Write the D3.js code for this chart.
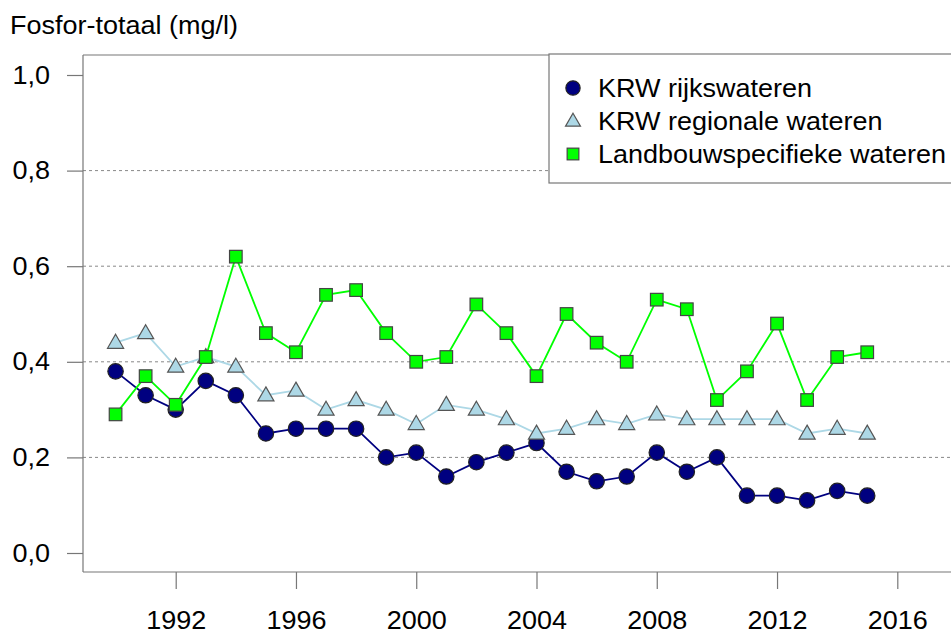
<!DOCTYPE html>
<html>
<head>
<meta charset="utf-8">
<script src="https://cdn.jsdelivr.net/npm/d3@7"></script>
<style>
  body { margin: 0; background: #fff; }
  text { font-family: "Liberation Sans", Arial, sans-serif; fill: #000; }
</style>
</head>
<body>
<div id="chart"></div>
<script>
// data
const years = d3.range(1990, 2016);
const rijk = [0.38, 0.33, 0.30, 0.36, 0.33, 0.25, 0.26, 0.26, 0.26, 0.20, 0.21, 0.16, 0.19,
              0.21, 0.23, 0.17, 0.15, 0.16, 0.21, 0.17, 0.20, 0.12, 0.12, 0.11, 0.13, 0.12];
const regio = [0.44, 0.46, 0.39, 0.41, 0.39, 0.33, 0.34, 0.30, 0.32, 0.30, 0.27, 0.31, 0.30,
               0.28, 0.25, 0.26, 0.28, 0.27, 0.29, 0.28, 0.28, 0.28, 0.28, 0.25, 0.26, 0.25];
const landbouw = [0.29, 0.37, 0.31, 0.41, 0.62, 0.46, 0.42, 0.54, 0.55, 0.46, 0.40, 0.41, 0.52,
                  0.46, 0.37, 0.50, 0.44, 0.40, 0.53, 0.51, 0.32, 0.38, 0.48, 0.32, 0.41, 0.42];
const seriesNames = ["KRW rijkswateren", "KRW regionale wateren", "Landbouwspecifieke wateren"];
const xTicks = [1992, 1996, 2000, 2004, 2008, 2012, 2016];
const yTicks = [0, 0.2, 0.4, 0.6, 0.8, 1.0];
const gridTicks = [0.2, 0.4, 0.6, 0.8];

const W = 951, H = 634;
const box = {left: 83, top: 55, bottom: 572};
const stretch = 1.08; // text in the original is a bit wider than Liberation Sans

const svg = d3.select("#chart")
  .append("svg")
    .attr("width", W)
    .attr("height", H);

// scales
const x = d3.scaleLinear().domain([1992, 2016]).range([175.7, 897.3]);
const y = d3.scaleLinear().domain([0, 1]).range([553, 75]);
const fmt = d => d3.format(".1f")(d).replace(".", ",");

// title
svg.append("text")
  .attr("transform", `translate(10,34) scale(${stretch},1)`)
  .attr("font-size", 25)
  .text("Fosfor-totaal (mg/l)");

// grid
svg.selectAll("line.grid")
  .data(gridTicks)
  .join("line")
    .attr("class", "grid")
    .attr("x1", box.left).attr("x2", W)
    .attr("y1", d => y(d)).attr("y2", d => y(d))
    .attr("stroke", "#888")
    .attr("stroke-dasharray", "3,3")
    .attr("stroke-width", 1);

// plot frame (left, top, bottom)
const frame = svg.append("g").attr("stroke", "#777").attr("stroke-width", 1.2);
frame.append("line").attr("x1", box.left).attr("x2", box.left).attr("y1", box.top).attr("y2", box.bottom);
frame.append("line").attr("x1", box.left).attr("x2", W).attr("y1", box.top).attr("y2", box.top);
frame.append("line").attr("x1", box.left).attr("x2", W).attr("y1", box.bottom).attr("y2", box.bottom);

// Y axis
const yAxis = svg.append("g")
  .attr("transform", `translate(${box.left},0)`)
  .call(d3.axisLeft(y).tickValues(yTicks).tickFormat(fmt).tickSize(16).tickPadding(17));
yAxis.select(".domain").remove();
yAxis.selectAll("line").attr("stroke", "#777").attr("stroke-width", 1.2);
yAxis.selectAll("text")
  .attr("font-size", 25)
  .attr("font-family", "Liberation Sans, Arial, sans-serif")
  .attr("transform", `translate(-33,0) scale(${stretch},1) translate(33,0)`);

// X axis
const xAxis = svg.append("g")
  .attr("transform", `translate(0,${box.bottom})`)
  .call(d3.axisBottom(x).tickValues(xTicks).tickFormat(d3.format("d")).tickSize(17).tickPadding(22));
xAxis.select(".domain").remove();
xAxis.selectAll("line").attr("stroke", "#777").attr("stroke-width", 1.2);
xAxis.selectAll("text")
  .attr("font-size", 25)
  .attr("font-family", "Liberation Sans, Arial, sans-serif")
  .attr("transform", `scale(${stretch},1)`);

// series
const series = [
  {name: seriesNames[0], values: rijk, line: "#000080", fill: "#000080", stroke: "#222", shape: "circle"},
  {name: seriesNames[1], values: regio, line: "#add8e6", fill: "#add8e6", stroke: "#555", shape: "triangle"},
  {name: seriesNames[2], values: landbouw, line: "#00ff00", fill: "#00ff00", stroke: "#444", shape: "square"}
];

const lineGen = d3.line()
  .x((d, i) => x(years[i]))
  .y(d => y(d));

function marker(sel, s, size) {
  if (s.shape === "circle") {
    sel.append("circle").attr("r", size * 0.55);
  } else if (s.shape === "triangle") {
    const h = size;
    const w = size * 1.15;
    sel.append("path").attr("d", `M0,${-h * 0.6} L${w / 2},${h * 0.4} L${-w / 2},${h * 0.4} Z`);
  } else {
    const a = size * 0.9;
    sel.append("rect").attr("x", -a / 2).attr("y", -a / 2).attr("width", a).attr("height", a);
  }
  sel.selectAll("*")
    .attr("fill", s.fill)
    .attr("stroke", s.stroke)
    .attr("stroke-width", 1.2);
}

series.forEach(s => {
  const g = svg.append("g");
  g.append("path")
    .datum(s.values)
    .attr("fill", "none")
    .attr("stroke", s.line)
    .attr("stroke-width", 1.8)
    .attr("d", lineGen);
  g.selectAll("g.pt")
    .data(s.values)
    .join("g")
      .attr("class", "pt")
      .attr("transform", (d, i) => `translate(${x(years[i])},${y(d)})`)
      .each(function() { marker(d3.select(this), s, 14); });
});

// legend
const legend = svg.append("g");
legend.append("rect")
  .attr("x", 549).attr("y", 54)
  .attr("width", 420).attr("height", 129)
  .attr("fill", "#fff")
  .attr("stroke", "#777")
  .attr("stroke-width", 1.2);

const rows = legend.selectAll("g.row")
  .data(series)
  .join("g")
    .attr("class", "row")
    .attr("transform", (d, i) => `translate(573,${88 + i * 33})`);
rows.each(function(s) { marker(d3.select(this), s, 13); });
rows.append("text")
  .attr("transform", `translate(25,9) scale(${stretch},1)`)
  .attr("font-size", 25)
  .text(d => d.name);
</script>
</body>
</html>
